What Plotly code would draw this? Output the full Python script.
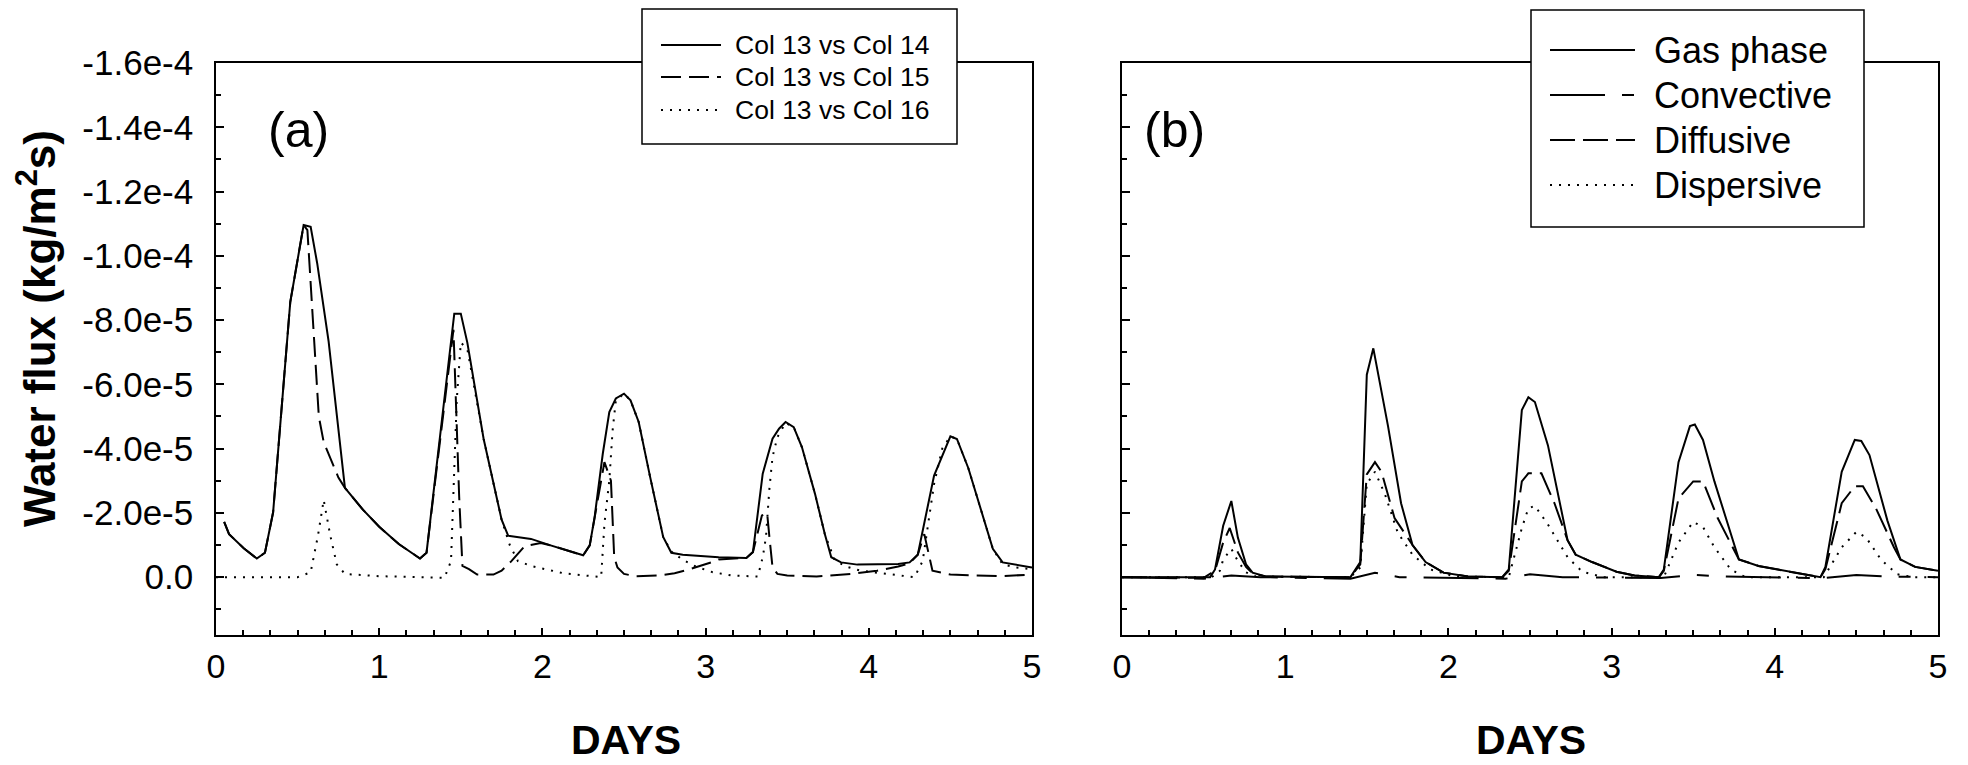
import plotly.graph_objects as go

# ---------------- data (flux values in units of 1e-5 kg/m2s) ----------------
# Panel (a)
a14_days = [0.05, 0.08, 0.17, 0.25, 0.30, 0.35, 0.455, 0.51, 0.537, 0.58, 0.62, 0.69, 0.79, 0.9, 1.0, 1.12,
            1.25, 1.29, 1.46, 1.5, 1.54, 1.64, 1.75, 1.79, 1.93, 2.05, 2.25, 2.29, 2.32, 2.37, 2.41, 2.45,
            2.5, 2.54, 2.59, 2.66, 2.74, 2.79, 2.86, 3.08, 3.25, 3.29, 3.35, 3.41, 3.45, 3.49, 3.54, 3.59,
            3.67, 3.73, 3.77, 3.83, 3.93, 4.18, 4.25, 4.3, 4.4, 4.5, 4.54, 4.61, 4.76, 4.82, 5.0]
a14_flux = [-1.72, -1.34, -0.9, -0.58, -0.76, -2.02, -8.56, -10.15, -10.96, -10.9, -9.77, -7.34, -2.78, -2.1,
            -1.57, -1.03, -0.58, -0.76, -8.2, -8.2, -7.3, -4.3, -1.79, -1.29, -1.19, -0.99, -0.68, -0.99,
            -1.87, -3.84, -5.14, -5.56, -5.71, -5.5, -4.83, -3.12, -1.25, -0.76, -0.70, -0.62, -0.6, -0.78,
            -3.22, -4.31, -4.62, -4.83, -4.67, -4.05, -2.6, -1.35, -0.62, -0.46, -0.39, -0.41, -0.46, -0.7,
            -3.16, -4.38, -4.3, -3.39, -0.88, -0.46, -0.3]

a15_days = [0.05, 0.08, 0.17, 0.25, 0.30, 0.35, 0.455, 0.51, 0.537, 0.56, 0.6, 0.63, 0.66, 0.7, 0.75, 0.79,
            0.9, 1.0, 1.12, 1.25, 1.29, 1.455, 1.49, 1.51, 1.55, 1.6, 1.7, 1.75, 1.81, 1.89, 1.99, 2.05,
            2.25, 2.29, 2.32, 2.38, 2.42, 2.44, 2.46, 2.5, 2.57, 2.71, 2.81, 2.91, 3.04, 3.08, 3.25, 3.29,
            3.345, 3.377, 3.39, 3.41, 3.44, 3.5, 3.68, 3.89, 4.05, 4.18, 4.25, 4.3, 4.34, 4.39, 4.5, 4.8, 5.0]
a15_flux = [-1.72, -1.34, -0.9, -0.58, -0.76, -2.02, -8.56, -10.15, -10.96, -10.8, -7.5, -5.0, -4.2, -3.7,
            -3.1, -2.78, -2.1, -1.57, -1.03, -0.58, -0.76, -7.7, -2.5, -0.35, -0.25, -0.08, -0.08, -0.2,
            -0.5, -0.96, -1.06, -0.99, -0.68, -0.99, -1.87, -3.58, -3.0, -0.62, -0.3, -0.1, -0.03, -0.05,
            -0.12, -0.26, -0.47, -0.55, -0.6, -0.78, -1.92, -1.99, -1.3, -0.31, -0.1, -0.05, -0.02, -0.1,
            -0.2, -0.33, -0.43, -0.7, -1.34, -0.2, -0.08, -0.03, -0.08]

a16_days = [0.0, 0.5, 0.58, 0.625, 0.66, 0.7, 0.74, 0.79, 1.0, 1.4, 1.44, 1.475, 1.5, 1.54, 1.64, 1.75, 1.8,
            1.85, 1.93, 2.13, 2.36, 2.38, 2.41, 2.43, 2.45, 2.5, 2.54, 2.59, 2.66, 2.74, 2.79, 2.86, 2.94,
            3.04, 3.16, 3.32, 3.35, 3.37, 3.39, 3.41, 3.44, 3.49, 3.54, 3.59, 3.67, 3.73, 3.79, 3.86, 3.95,
            4.1, 4.28, 4.33, 4.36, 4.4, 4.45, 4.5, 4.54, 4.61, 4.76, 4.82, 4.9, 5.0]
a16_flux = [0.0, 0.0, -0.15, -1.3, -2.4, -1.3, -0.4, -0.1, -0.03, 0.02, -0.5, -5.5, -7.3, -7.1, -4.3, -1.79,
            -1.0, -0.5, -0.35, -0.12, 0.0, -1.66, -3.01, -4.56, -5.5, -5.71, -5.5, -4.83, -3.12, -1.25, -0.8,
            -0.54, -0.33, -0.16, -0.05, -0.02, -0.62, -1.25, -2.7, -3.74, -4.36, -4.8, -4.67, -4.05, -2.6,
            -1.35, -0.54, -0.33, -0.2, -0.1, 0.0, -0.5, -1.5, -2.9, -4.0, -4.38, -4.3, -3.39, -0.88, -0.4,
            -0.3, -0.25]

# Panel (b)
gas_days = [0.0, 0.5, 0.54, 0.57, 0.62, 0.67, 0.71, 0.76, 0.8, 0.88, 1.4, 1.46, 1.5, 1.54, 1.57, 1.63, 1.71,
            1.78, 1.86, 1.97, 2.12, 2.33, 2.37, 2.45, 2.49, 2.53, 2.61, 2.73, 2.78, 2.88, 3.03, 3.14, 3.29,
            3.32, 3.41, 3.48, 3.51, 3.56, 3.63, 3.78, 3.9, 4.09, 4.28, 4.31, 4.41, 4.49, 4.53, 4.58, 4.69,
            4.77, 4.86, 5.0]
gas_flux = [0.0, 0.02, 0.0, -0.24, -1.6, -2.37, -1.23, -0.4, -0.14, -0.02, 0.0, -0.47, -6.3, -7.12, -6.3,
            -4.7, -2.3, -1.0, -0.47, -0.14, -0.02, 0.0, -0.24, -5.2, -5.6, -5.45, -4.1, -1.15, -0.7, -0.47,
            -0.17, -0.05, 0.0, -0.24, -3.58, -4.7, -4.75, -4.27, -2.98, -0.55, -0.35, -0.17, 0.0, -0.32,
            -3.28, -4.27, -4.24, -3.8, -1.76, -0.55, -0.32, -0.2]

conv_days = [0.0, 0.5, 0.67, 0.85, 1.4, 1.55, 1.7, 2.35, 2.5, 2.7, 3.3, 3.5, 3.7, 4.3, 4.5, 4.7, 5.0]
conv_flux = [0.0, 0.05, -0.05, 0.0, 0.05, -0.14, 0.0, 0.05, -0.09, 0.0, 0.03, -0.07, -0.02, 0.03, -0.07,
             -0.02, 0.0]

diff_days = [0.0, 0.5, 0.57, 0.62, 0.66, 0.71, 0.76, 0.8, 0.88, 1.4, 1.46, 1.5, 1.55, 1.59, 1.67, 1.78,
             1.86, 1.97, 2.12, 2.33, 2.37, 2.45, 2.49, 2.57, 2.65, 2.73, 2.78, 2.88, 3.03, 3.14, 3.29, 3.32,
             3.41, 3.5, 3.56, 3.65, 3.78, 3.9, 4.09, 4.28, 4.31, 4.41, 4.49, 4.54, 4.62, 4.73, 4.77, 4.86,
             5.0]
diff_flux = [0.0, 0.02, -0.2, -1.08, -1.53, -0.77, -0.32, -0.12, -0.02, 0.0, -0.4, -3.2, -3.58, -3.28,
             -1.84, -1.0, -0.47, -0.14, -0.02, 0.0, -0.2, -2.98, -3.23, -3.23, -2.3, -1.15, -0.7, -0.47,
             -0.17, -0.05, 0.0, -0.2, -2.45, -2.98, -2.98, -1.84, -0.55, -0.35, -0.17, 0.0, -0.25, -2.3,
             -2.83, -2.83, -2.14, -0.93, -0.55, -0.32, -0.2]

disp_days = [0.0, 0.55, 0.6, 0.62, 0.67, 0.71, 0.76, 0.82, 1.4, 1.46, 1.5, 1.55, 1.61, 1.69, 1.78, 1.89, 2.04,
             2.37, 2.45, 2.49, 2.53, 2.61, 2.73, 2.82, 2.95, 3.32, 3.41, 3.5, 3.56, 3.63, 3.73, 3.82, 4.3,
             4.41, 4.5, 4.56, 4.65, 4.75, 4.85, 5.0]
disp_flux = [0.0, 0.0, -0.2, -0.55, -0.88, -0.5, -0.15, -0.02, 0.0, -0.3, -2.9, -3.28, -2.6, -1.38, -0.7,
             -0.24, -0.02, 0.0, -1.53, -2.14, -2.22, -1.64, -0.62, -0.17, 0.0, 0.0, -1.08, -1.72, -1.56,
             -0.93, -0.24, 0.0, 0.0, -0.93, -1.41, -1.23, -0.55, -0.09, 0.0, 0.0]

names_a = ["Col 13 vs Col 14", "Col 13 vs Col 15", "Col 13 vs Col 16"]
names_b = ["Gas phase", "Convective", "Diffusive", "Dispersive"]

ytick_vals = [-16, -14, -12, -10, -8, -6, -4, -2, 0]
ytick_text = ["-1.6e-4", "-1.4e-4", "-1.2e-4", "-1.0e-4", "-8.0e-5", "-6.0e-5", "-4.0e-5", "-2.0e-5", "0.0"]
yminor_vals = [-15, -13, -11, -9, -7, -5, -3, -1, 1]
xtick_vals = [0, 1, 2, 3, 4, 5]
xtick_text = ["0", "1", "2", "3", "4", "5"]

# ---------------- figure ----------------
FONT = "Liberation Sans, Arial, sans-serif"
fig = go.Figure()

dash_a = ["solid", "20px,8px", "2px,7px"]
dash_b = ["solid", "55px,17px,12px,17px", "25px,8px", "2px,7px"]

for nm, xs, ys, dsh in zip(names_a, [a14_days, a15_days, a16_days], [a14_flux, a15_flux, a16_flux], dash_a):
    fig.add_trace(go.Scatter(x=xs, y=ys, mode="lines", name=nm, line=dict(color="black", width=2, dash=dsh),
                             xaxis="x", yaxis="y", showlegend=False))

for nm, xs, ys, dsh in zip(names_b, [gas_days, conv_days, diff_days, disp_days],
                           [gas_flux, conv_flux, diff_flux, disp_flux], dash_b):
    fig.add_trace(go.Scatter(x=xs, y=ys, mode="lines", name=nm, line=dict(color="black", width=2, dash=dsh),
                             xaxis="x2", yaxis="y2", showlegend=False))

# page body has an 8px margin; reference pixel coordinates are page coordinates
OFF = 8
W, H = 1960, 757
ML, MR, MT, MB = 208, 30, 55, 130
PW = W - ML - MR
PH = H - MT - MB


def px_x(x):
    return (x - OFF - ML) / PW


def px_y(y):
    return (H - MB - (y - OFF)) / PH


xa = dict(range=[0, 5], tickmode="array", tickvals=xtick_vals, ticktext=xtick_text, ticks="inside",
          ticklen=7, tickwidth=1.5, tickcolor="black", showline=True, linewidth=1.5, linecolor="black",
          mirror=True, showgrid=False, zeroline=False,
          tickfont=dict(family=FONT, size=34, color="black"), ticklabelstandoff=0,
          minor=dict(dtick=1 / 6, tick0=0, ticks="inside", ticklen=5, tickwidth=1.5, tickcolor="black",
                     showgrid=False))
ya = dict(range=[1.8, -16], tickmode="array", tickvals=ytick_vals, ticktext=ytick_text, ticks="inside",
          ticklen=8, tickwidth=1.5, tickcolor="black", showline=True, linewidth=1.5, linecolor="black",
          mirror=True, showgrid=False, zeroline=False,
          tickfont=dict(family=FONT, size=35, color="black"), ticklabelstandoff=14,
          minor=dict(tickmode="array", tickvals=yminor_vals, ticks="inside", ticklen=5, tickwidth=1.5,
                     tickcolor="black", showgrid=False))

fig.update_layout(
    width=W, height=H, margin=dict(l=ML, r=MR, t=MT, b=MB),
    paper_bgcolor="white", plot_bgcolor="white",
    font=dict(family=FONT, color="black"),
    xaxis=dict(domain=[0, px_x(1032)], anchor="y", **xa),
    yaxis=dict(domain=[0, 1], anchor="x", **ya),
    xaxis2=dict(domain=[px_x(1122), 1], anchor="y2", **xa),
    yaxis2=dict(domain=[0, 1], anchor="x2", showticklabels=False, **ya),
    showlegend=False,
)


# ---------------- legends (drawn as boxes with line samples and labels) ----------------
def add_legend(box, line_x, rows, names, dashes, text_x, size):
    x0, y0, x1, y1 = box
    fig.add_shape(type="rect", xref="paper", yref="paper", x0=px_x(x0), y0=px_y(y0), x1=px_x(x1),
                  y1=px_y(y1), line=dict(color="black", width=1.5), fillcolor="white", layer="above")
    for ry, nm, dsh in zip(rows, names, dashes):
        fig.add_shape(type="line", xref="paper", yref="paper", x0=px_x(line_x[0]), x1=px_x(line_x[1]),
                      y0=px_y(ry), y1=px_y(ry), line=dict(color="black", width=2, dash=dsh), layer="above")
        fig.add_annotation(text=nm, x=px_x(text_x), y=px_y(ry), xref="paper", yref="paper",
                           showarrow=False, xanchor="left", yanchor="middle",
                           font=dict(family=FONT, size=size, color="black"))


add_legend((642, 9, 957, 144), (661, 721), [45, 77, 110], names_a, dash_a, 733, 26.5)
add_legend((1531, 10, 1864, 227), (1550, 1635), [50, 95, 140, 185], names_b, dash_b, 1652, 36)

# ---------------- titles and panel labels ----------------
fig.add_annotation(text="(a)", x=px_x(298), y=px_y(130), xref="paper", yref="paper", showarrow=False,
                   font=dict(family=FONT, size=50, color="black"), xanchor="center", yanchor="middle")
fig.add_annotation(text="(b)", x=px_x(1174), y=px_y(130), xref="paper", yref="paper", showarrow=False,
                   font=dict(family=FONT, size=50, color="black"), xanchor="center", yanchor="middle")
fig.add_annotation(text="<b>DAYS</b>", x=px_x(626), y=px_y(740), xref="paper", yref="paper",
                   showarrow=False, font=dict(family=FONT, size=41, color="black"),
                   xanchor="center", yanchor="middle")
fig.add_annotation(text="<b>DAYS</b>", x=px_x(1531), y=px_y(740), xref="paper", yref="paper",
                   showarrow=False, font=dict(family=FONT, size=41, color="black"),
                   xanchor="center", yanchor="middle")
fig.add_annotation(text="<b>Water flux (kg/m<sup>2</sup>s)</b>", x=px_x(36), y=px_y(329), xref="paper",
                   yref="paper", showarrow=False, textangle=-90,
                   font=dict(family=FONT, size=44, color="black"), xanchor="center", yanchor="middle")

fig.write_html("out.html")
